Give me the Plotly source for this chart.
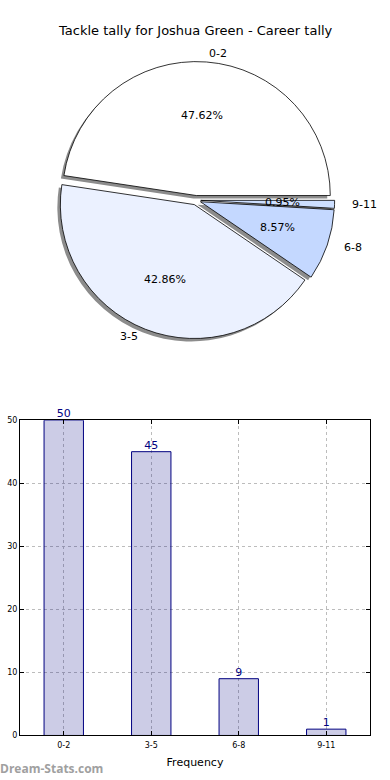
import numpy as np
import plotly.graph_objects as go

# ---- data ----
categories = ["0-2", "3-5", "6-8", "9-11"]
counts = [50, 45, 9, 1]
pie_colors = ["#ffffff", "#ebf1ff", "#c4d8ff", "#cddfff"]
title_text = "Tackle tally for Joshua Green - Career tally"
y_ticks = [0, 10, 20, 30, 40, 50]

W, H = 390, 780
FONT = "DejaVu Sans"

# pie geometry (pixels)
cx_px, cy_px, r_px, pull = 196.0, 198.5, 135.5, 0.035
box = r_px * (2 + 2 * pull)
shadow_dx, shadow_dy = -3.0, 3.0

vals = np.array(counts, dtype=float)
total = vals.sum()
cum = np.concatenate([[0], np.cumsum(vals)])
# first slice starts at 3 o'clock and slices run counter-clockwise
rotation = 90 - 360 * vals[0] / total


def px2paper(x, y):
    return x / W, 1 - y / H


def dom(cx, cy):
    x0, y0 = px2paper(cx - box / 2, cy + box / 2)
    x1, y1 = px2paper(cx + box / 2, cy - box / 2)
    return dict(x=[x0, x1], y=[y0, y1])


fig = go.Figure()

# shadow pie
fig.add_trace(go.Pie(
    labels=categories, values=counts, sort=False, direction="counterclockwise",
    rotation=rotation, pull=[pull] * len(counts),
    marker=dict(colors=["#8c8c8c"] * len(counts), line=dict(width=0)),
    textinfo="none", hoverinfo="skip", showlegend=False,
    domain=dom(cx_px + shadow_dx, cy_px + shadow_dy),
))
# main pie
fig.add_trace(go.Pie(
    labels=categories, values=counts, sort=False, direction="counterclockwise",
    rotation=rotation, pull=[pull] * len(counts),
    marker=dict(colors=pie_colors, line=dict(color="black", width=0.8)),
    textinfo="none", showlegend=False,
    domain=dom(cx_px, cy_px),
))

# pie labels computed from the data
annotations = []
for i, lab in enumerate(categories):
    mid = np.deg2rad(360 * (cum[i] + cum[i + 1]) / 2 / total)
    c, s = np.cos(mid), np.sin(mid)
    ox, oy = cx_px + pull * r_px * c, cy_px - pull * r_px * s
    lx, ly = px2paper(ox + 1.1 * r_px * c, oy - 1.06 * r_px * s)
    annotations.append(dict(
        x=lx, y=ly, xref="paper", yref="paper", text=lab, showarrow=False,
        xanchor="left" if c > 0 else "right", yanchor="middle",
        font=dict(family=FONT, size=11, color="black")))
    px_, py_ = px2paper(ox + 0.6 * r_px * c, oy - 0.6 * r_px * s)
    annotations.append(dict(
        x=px_, y=py_, xref="paper", yref="paper",
        text=f"{100 * vals[i] / total:.2f}%", showarrow=False,
        xanchor="center", yanchor="middle",
        font=dict(family=FONT, size=11, color="black")))

# bar chart
fig.add_trace(go.Bar(
    x=categories, y=counts, width=0.45,
    marker=dict(color="rgba(0,0,128,0.2)", line=dict(color="#000080", width=1)),
    showlegend=False, xaxis="x", yaxis="y",
))
fig.add_trace(go.Scatter(
    x=categories, y=counts, mode="text", text=[str(v) for v in counts],
    textposition="top center", cliponaxis=False,
    textfont=dict(family=FONT, size=11, color="#000080"),
    showlegend=False, hoverinfo="skip", xaxis="x", yaxis="y",
))

bx0, by0 = px2paper(20, 740)
bx1, by1 = px2paper(370, 421)

annotations.append(dict(
    x=0.5, y=px2paper(0, 27)[1], xref="paper", yref="paper", text=title_text,
    showarrow=False, xanchor="center", yanchor="middle",
    font=dict(family=FONT, size=13, color="black")))
annotations.append(dict(
    x=0.0, y=px2paper(0, 773)[1], xref="paper", yref="paper", text="<b>Dream-Stats.com</b>",
    showarrow=False, xanchor="left", yanchor="middle", xshift=-2,
    font=dict(family="Open Sans", size=12, color="#a0a0a0")))

fig.update_layout(
    width=W, height=H, margin=dict(l=0, r=0, t=0, b=0),
    paper_bgcolor="white", plot_bgcolor="white",
    font=dict(family=FONT, color="black"),
    annotations=annotations,
    xaxis=dict(
        domain=[bx0, bx1], anchor="y", type="category", range=[-0.5, 3.5],
        showline=True, linecolor="black", linewidth=1, mirror="allticks",
        ticks="inside", ticklen=4, tickcolor="black", ticklabelstandoff=2,
        showgrid=True, gridcolor="#bcbcbc", griddash="dot", gridwidth=1,
        tickfont=dict(family=FONT, size=8, color="black"),
        title=dict(text="Frequency", font=dict(family=FONT, size=11), standoff=9),
        zeroline=False, fixedrange=True,
    ),
    yaxis=dict(
        domain=[by0, by1], anchor="x", range=[0, 50],
        tickvals=y_ticks, showline=True, linecolor="black", linewidth=1, mirror="allticks",
        ticks="inside", ticklen=4, tickcolor="black",
        showgrid=True, gridcolor="#bcbcbc", griddash="dot", gridwidth=1,
        tickfont=dict(family=FONT, size=8, color="black"),
        zeroline=False, fixedrange=True,
    ),
)

fig.write_html(
    "out.html",
    config={"displayModeBar": False},
    post_script="document.body.style.margin='0';document.body.style.overflow='hidden';",
)
